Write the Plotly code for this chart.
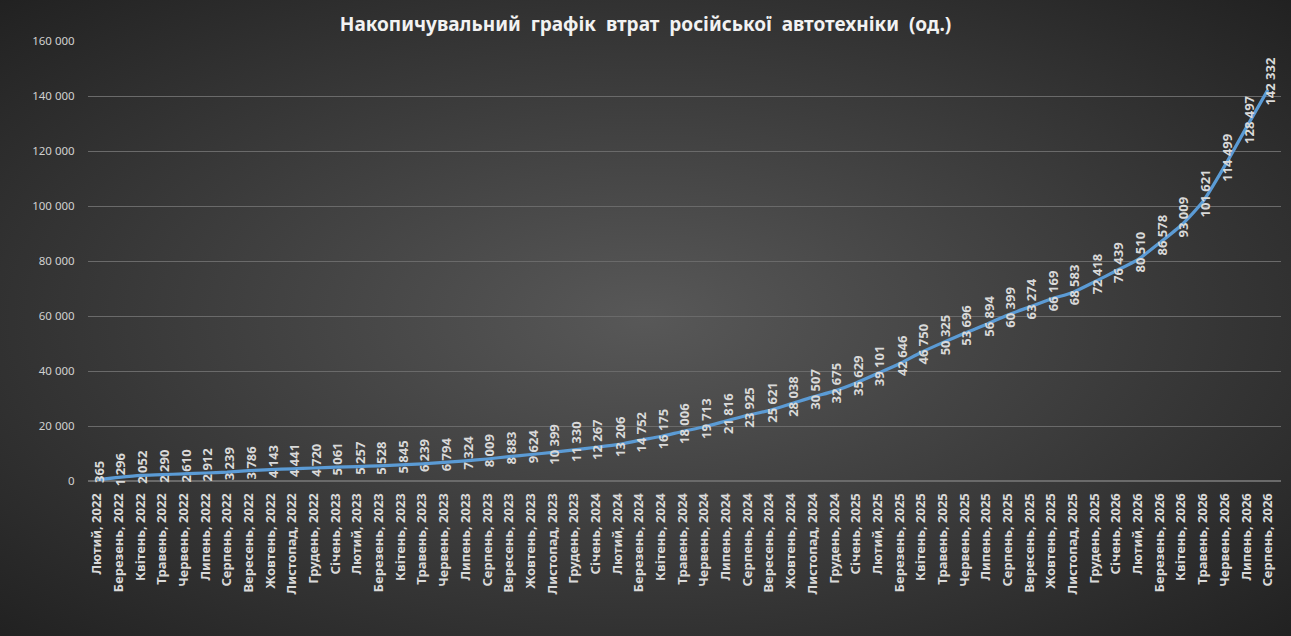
import base64
import plotly.graph_objects as go

months = ['Лютий', 'Березень', 'Квітень', 'Травень', 'Червень', 'Липень',
          'Серпень', 'Вересень', 'Жовтень', 'Листопад', 'Грудень', 'Січень']

years = [2022] * 11 + [2023] * 12 + [2024] * 12 + [2025] * 12 + [2026] * 8

losses = [365, 1296, 2052, 2290, 2610, 2912, 3239, 3786, 4143, 4441, 4720,
          5061, 5257, 5528, 5845, 6239, 6794, 7324, 8009, 8883, 9624, 10399, 11330,
          12267, 13206, 14752, 16175, 18006, 19713, 21816, 23925, 25621, 28038, 30507, 32675,
          35629, 39101, 42646, 46750, 50325, 53696, 56894, 60399, 63274, 66169, 68583, 72418,
          76439, 80510, 86578, 93009, 101621, 114499, 128497, 142332]

# category labels "Місяць, рік"
labels = []
for i, y in enumerate(years):
    labels.append(months[i % 12] + ', ' + str(y))

W, H = 1291, 636
L, R, T, B = 88, 10, 41, 155

# radial gradient background (Excel style)
svg = f'''<svg xmlns="http://www.w3.org/2000/svg" width="{W}" height="{H}">
<defs><radialGradient id="g" cx="50%" cy="50%" r="75%">
<stop offset="0%" stop-color="#585858"/>
<stop offset="100%" stop-color="#1e1e1e"/>
</radialGradient></defs>
<rect width="{W}" height="{H}" fill="url(#g)"/></svg>'''
bg = 'data:image/svg+xml;base64,' + base64.b64encode(svg.encode()).decode()

pw, ph = W - L - R, H - T - B

fig = go.Figure()
fig.add_trace(go.Scatter(
    x=labels, y=losses, mode='lines',
    line=dict(color='#5b9bd5', width=3.2, shape='spline', smoothing=0.6),
    hoverinfo='x+y', showlegend=False))

# rotated data labels
for lab, v in zip(labels, losses):
    fig.add_annotation(x=lab, y=v, text=f'{v:,}'.replace(',', ' '),
                       textangle=-90, showarrow=False, yshift=8, xshift=2,
                       font=dict(family='Noto Sans', size=13, color='#d9d9d9', weight='bold'))

fig.update_layout(
    width=W, height=H,
    margin=dict(l=L, r=R, t=T, b=B),
    paper_bgcolor='#2a2a2a',
    plot_bgcolor='rgba(0,0,0,0)',
    separators=', ',
    title=dict(text='Накопичувальний\u00a0\u00a0графік\u00a0\u00a0втрат\u00a0\u00a0російської\u00a0\u00a0автотехніки\u00a0\u00a0(од.)',
               x=0.5, xanchor='center', y=0.962, yanchor='middle',
               font=dict(family='Noto Sans', size=19, color='#f2f2f2', weight='bold')),
    images=[dict(source=bg, xref='paper', yref='paper',
                 x=-L / pw, y=1 + T / ph, sizex=W / pw, sizey=H / ph,
                 xanchor='left', yanchor='top', sizing='stretch', layer='below')],
    xaxis=dict(type='category', tickangle=-90, showgrid=False, showline=False,
               ticks='outside', ticklen=6, tickcolor='rgba(0,0,0,0)',
               tickfont=dict(family='Noto Sans', size=13, color='#d9d9d9', weight='bold')),
    yaxis=dict(range=[0, 160000], dtick=20000, tickformat=',d',
               gridcolor='#6a6a6a', gridwidth=1, zeroline=True, zerolinecolor='#6a6a6a',
               ticks='outside', ticklen=10, tickcolor='rgba(0,0,0,0)',
               tickfont=dict(family='Noto Sans', size=11.5, color='#d0d0d0')),
)

fig.write_html('out.html', config={'displayModeBar': False},
               post_script="document.body.style.margin='0';")
